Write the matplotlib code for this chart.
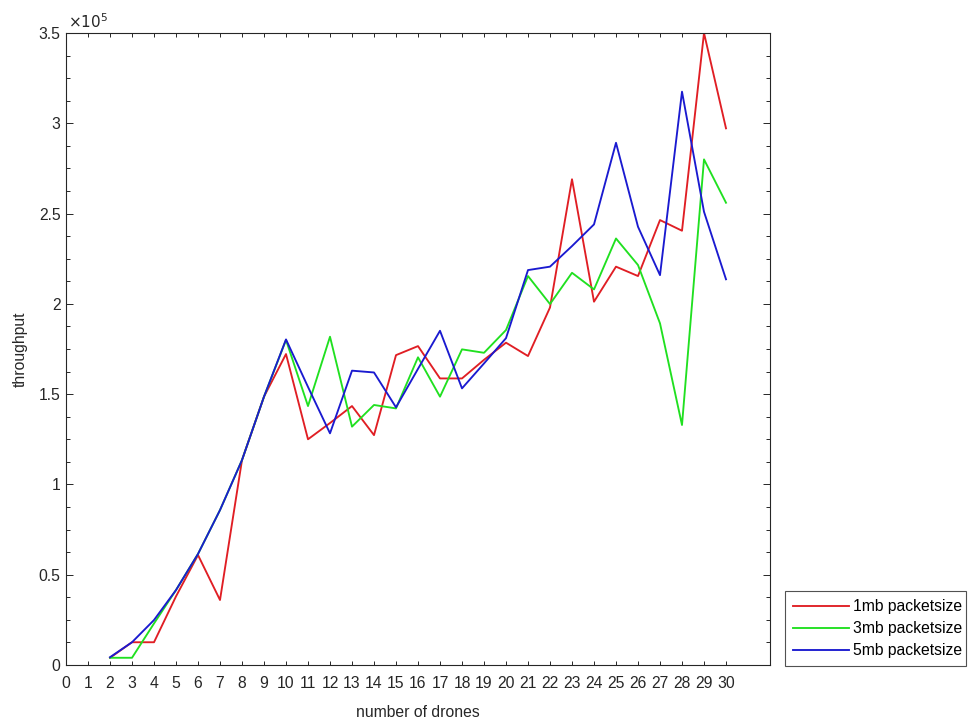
import matplotlib
matplotlib.use("Agg")
import matplotlib.pyplot as plt
from matplotlib.ticker import MultipleLocator, FuncFormatter
import numpy as np

plt.rcParams['font.family'] = ['Liberation Sans', 'DejaVu Sans']

drones = list(range(2, 31))
tput_1mb = [0.04, 0.126, 0.126, 0.38, 0.609, 0.36, 1.135, 1.486, 1.722, 1.25, 1.34, 1.434,
            1.273, 1.716, 1.766, 1.587, 1.587, 1.69, 1.785, 1.711, 1.98, 2.69, 2.012, 2.206,
            2.154, 2.464, 2.405, 3.50, 2.972]
tput_3mb = [0.04, 0.04, 0.23, 0.415, 0.615, 0.858, 1.135, 1.486, 1.80, 1.434, 1.818, 1.32,
            1.44, 1.421, 1.704, 1.486, 1.748, 1.729, 1.855, 2.154, 1.999, 2.172, 2.08, 2.362,
            2.215, 1.892, 1.329, 2.80, 2.56]
tput_5mb = [0.043, 0.126, 0.249, 0.415, 0.615, 0.858, 1.135, 1.486, 1.803, 1.54, 1.283, 1.63,
            1.62, 1.427, 1.64, 1.851, 1.532, 1.67, 1.81, 2.187, 2.206, 2.32, 2.44, 2.892,
            2.427, 2.159, 3.175, 2.51, 2.136]
labels = ['1mb packetsize', '3mb packetsize', '5mb packetsize']
colors = ['#e01e24', '#20e020', '#1a1ad0']

series = [np.array(s) * 1e5 for s in (tput_1mb, tput_3mb, tput_5mb)]

fig = plt.figure(figsize=(9.68, 7.22), dpi=100)
ax = fig.add_axes([66/968, 57/722, (770-66)/968, (665-33)/722])

for y, c, lab in zip(series, colors, labels):
    ax.plot(drones, y, color=c, lw=1.35, label=lab)

ax.set_xlim(0, 32)
ax.set_ylim(0, 3.5e5)
ax.set_xticks(range(0, 31))
ax.yaxis.set_major_locator(MultipleLocator(0.5e5))
ax.yaxis.set_minor_locator(MultipleLocator(0.125e5))
ax.yaxis.set_major_formatter(FuncFormatter(lambda v, p: f"{v/1e5:g}"))

axc = '#262626'
for s in ax.spines.values():
    s.set_color(axc)
    s.set_linewidth(0.8)
ax.tick_params(axis='both', which='both', direction='in', top=True, right=True,
               colors=axc, labelsize=11.3, width=0.7)
ax.tick_params(axis='x', which='major', length=3, pad=8)
ax.tick_params(axis='y', which='major', length=5, pad=4)
ax.tick_params(axis='y', which='minor', length=3)
ax.tick_params(axis='x', which='minor', bottom=False, top=False)

ax.set_xlabel('number of drones', fontsize=11.3, color=axc, labelpad=10)
ax.set_ylabel('throughput', fontsize=11.3, color=axc, labelpad=8)
ax.text(0.003, 1.003, r'$\times10^{5}$', transform=ax.transAxes, fontsize=11,
        color=axc, ha='left', va='bottom', math_fontfamily='dejavusans')

leg = ax.legend(loc='lower left', bbox_to_anchor=(785/968, 56/722, 181/968, 74/722),
                bbox_transform=fig.transFigure, mode='expand', fontsize=11.3,
                handlelength=3.6, handletextpad=0.25, borderpad=0.5, labelspacing=0.45,
                fancybox=False, frameon=True, borderaxespad=0)
leg.get_frame().set_edgecolor(axc)
leg.get_frame().set_linewidth(0.8)

fig.savefig('out.png', dpi=100)
